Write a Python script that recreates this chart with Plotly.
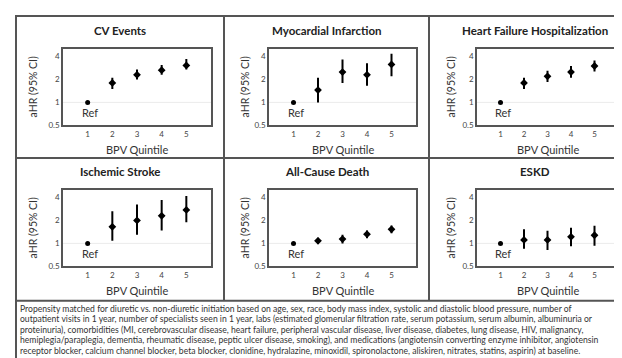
import plotly.graph_objects as go

# ---------------- data ----------------
quintiles = [1, 2, 3, 4, 5]
x_tick_labels = ["1", "2", "3", "4", "5"]
y_tick_values = [0.5, 1, 2, 4]
y_tick_labels = ["0.5", "1", "2", "4"]

panel_titles = ["CV Events", "Myocardial Infarction", "Heart Failure Hospitalization",
                "Ischemic Stroke", "All-Cause Death", "ESKD"]

cv_hr = [1, 1.8, 2.3, 2.65, 3.05]
cv_lo = [1, 1.5, 2.0, 2.3, 2.7]
cv_hi = [1, 2.1, 2.7, 3.1, 3.7]

mi_hr = [1, 1.45, 2.5, 2.3, 3.15]
mi_lo = [1, 1.0, 1.8, 1.65, 2.2]
mi_hi = [1, 2.1, 3.65, 3.25, 4.35]

hf_hr = [1, 1.8, 2.2, 2.5, 3.0]
hf_lo = [1, 1.5, 1.85, 2.1, 2.55]
hf_hi = [1, 2.1, 2.6, 3.0, 3.55]

is_hr = [1, 1.65, 2.0, 2.3, 2.75]
is_lo = [1, 1.08, 1.3, 1.48, 1.9]
is_hi = [1, 2.65, 3.25, 3.7, 4.2]

acd_hr = [1, 1.08, 1.14, 1.32, 1.53]
acd_lo = [1, 0.98, 1.0, 1.17, 1.36]
acd_hi = [1, 1.19, 1.3, 1.48, 1.72]

eskd_hr = [1, 1.11, 1.11, 1.22, 1.28]
eskd_lo = [1, 0.85, 0.82, 0.92, 0.93]
eskd_hi = [1, 1.53, 1.47, 1.6, 1.7]

ref_label = "Ref"
x_title = "BPV Quintile"
y_title = "aHR (95% CI)"

footnote_lines = [
    "Propensity matched for diuretic vs. non-diuretic initiation based on age, sex, race, body mass index, systolic and diastolic blood pressure, number of",
    "outpatient visits in 1 year, number of specialists seen in 1 year, labs (estimated glomerular filtration rate, serum potassium, serum albumin, albuminuria or",
    "proteinuria), comorbidities (MI, cerebrovascular disease, heart failure, peripheral vascular disease, liver disease, diabetes, lung disease, HIV, malignancy,",
    "hemiplegia/paraplegia, dementia, rheumatic disease, peptic ulcer disease, smoking), and medications (angiotensin converting enzyme inhibitor, angiotensin",
    "receptor blocker, calcium channel blocker, beta blocker, clonidine, hydralazine, minoxidil, spironolactone, aliskiren, nitrates, statins, aspirin) at baseline.",
]

series = [(cv_hr, cv_lo, cv_hi), (mi_hr, mi_lo, mi_hi), (hf_hr, hf_lo, hf_hi),
          (is_hr, is_lo, is_hi), (acd_hr, acd_lo, acd_hi), (eskd_hr, eskd_lo, eskd_hi)]

# ---------------- layout geometry (pixels) ----------------
W, H = 622, 358
def px(x): return x / W
def py(y): return 1 - y / H

col_boxes = [(55, 203), (261, 408), (469, 610)]
row_boxes = [(42, 119), (185, 262)]
col_title_x = [112, 319, 527]
col_ytitle_x = [25, 237, 443]
row_title_y = [23, 166]
row_xtitle_y = [143, 286]

FONT = "Lato"
LINE = "#555555"

fig = go.Figure()
annotations = []
shapes = []

for i, (hr, lo, hi) in enumerate(series):
    r, c = divmod(i, 3)
    ax = "" if i == 0 else str(i + 1)
    xref, yref = "x" + ax, "y" + ax
    # reference point
    fig.add_trace(go.Scatter(
        x=quintiles[:1], y=hr[:1], mode="markers", xaxis=xref, yaxis=yref,
        marker=dict(symbol="circle", size=5, color="black"), showlegend=False, hoverinfo="skip"))
    # other quintiles with CIs
    fig.add_trace(go.Scatter(
        x=quintiles[1:], y=hr[1:], mode="markers", xaxis=xref, yaxis=yref,
        marker=dict(symbol="diamond", size=6, color="black"),
        error_y=dict(type="data", symmetric=False,
                     array=[h - m for h, m in zip(hi[1:], hr[1:])],
                     arrayminus=[m - l for m, l in zip(hr[1:], lo[1:])],
                     color="black", thickness=2, width=0),
        showlegend=False, hoverinfo="skip"))
    x0, x1 = col_boxes[c]
    y0, y1 = row_boxes[r]
    xa = dict(domain=[px(x0), px(x1)], range=[0, 6], anchor=yref,
              tickmode="array", tickvals=quintiles, ticktext=x_tick_labels,
              showgrid=False, zeroline=False, showline=True, mirror=True,
              linecolor=LINE, linewidth=1.5, ticks="", ticklen=0,
              tickfont=dict(family=FONT, size=8, color="#444"))
    ya = dict(domain=[py(y1), py(y0)], type="log", range=[-0.30103, 0.695], anchor=xref,
              tickmode="array", tickvals=y_tick_values, ticktext=y_tick_labels,
              showgrid=False, zeroline=False, showline=True, mirror=True,
              linecolor=LINE, linewidth=1.5, ticks="", ticklen=0,
              tickfont=dict(family=FONT, size=8, color="#444"))
    fig.update_layout(**{"xaxis" + ax: xa, "yaxis" + ax: ya})
    # faint reference line at 1
    shapes.append(dict(type="line", xref=xref + " domain", yref=yref, x0=0, x1=1, y0=1, y1=1,
                       line=dict(color="#ebebeb", width=1), layer="below"))
    # texts
    annotations.append(dict(text="<b>" + panel_titles[i] + "</b>", xref="paper", yref="paper",
                            x=px(col_title_x[c]), y=py(row_title_y[r]), showarrow=False,
                            xanchor="center", yanchor="middle",
                            font=dict(family=FONT, size=11.5, color="#222")))
    annotations.append(dict(text=x_title, xref="paper", yref="paper",
                            x=px((x0 + x1) / 2), y=py(row_xtitle_y[r]), showarrow=False,
                            xanchor="center", yanchor="middle",
                            font=dict(family=FONT, size=11, color="#333")))
    annotations.append(dict(text=y_title, xref="paper", yref="paper", textangle=-90,
                            x=px(col_ytitle_x[c]), y=py((y0 + y1) / 2), showarrow=False,
                            xanchor="center", yanchor="middle",
                            font=dict(family=FONT, size=10.5, color="#333")))
    annotations.append(dict(text=ref_label, xref=xref, yref=yref, x=quintiles[0], y=0,
                            showarrow=False, xanchor="center", yanchor="middle",
                            xshift=2, yshift=-10,
                            font=dict(family=FONT, size=11, color="#333")))

# footnote
for k, line in enumerate(footnote_lines):
    annotations.append(dict(text=line, xref="paper", yref="paper", x=px(11), y=py(305 + k * 10.6),
                            showarrow=False, xanchor="left", yanchor="middle", borderpad=0,
                            font=dict(family=FONT, size=8.6, color="#333")))

# frame lines
frame = dict(color=LINE, width=2)
shapes += [
    dict(type="rect", xref="paper", yref="paper", x0=px(8), x1=px(617), y0=py(356), y1=py(8), line=frame),
    dict(type="line", xref="paper", yref="paper", x0=px(216), x1=px(216), y0=py(297), y1=py(8), line=frame),
    dict(type="line", xref="paper", yref="paper", x0=px(421), x1=px(421), y0=py(297), y1=py(8), line=frame),
    dict(type="line", xref="paper", yref="paper", x0=px(8), x1=px(617), y0=py(152), y1=py(152), line=frame),
    dict(type="line", xref="paper", yref="paper", x0=px(8), x1=px(617), y0=py(297), y1=py(297), line=frame),
]

fig.update_layout(width=W, height=H, margin=dict(l=0, r=0, t=0, b=0),
                  paper_bgcolor="white", plot_bgcolor="white",
                  annotations=annotations, shapes=shapes,
                  font=dict(family=FONT))

fig.write_html("out.html")
